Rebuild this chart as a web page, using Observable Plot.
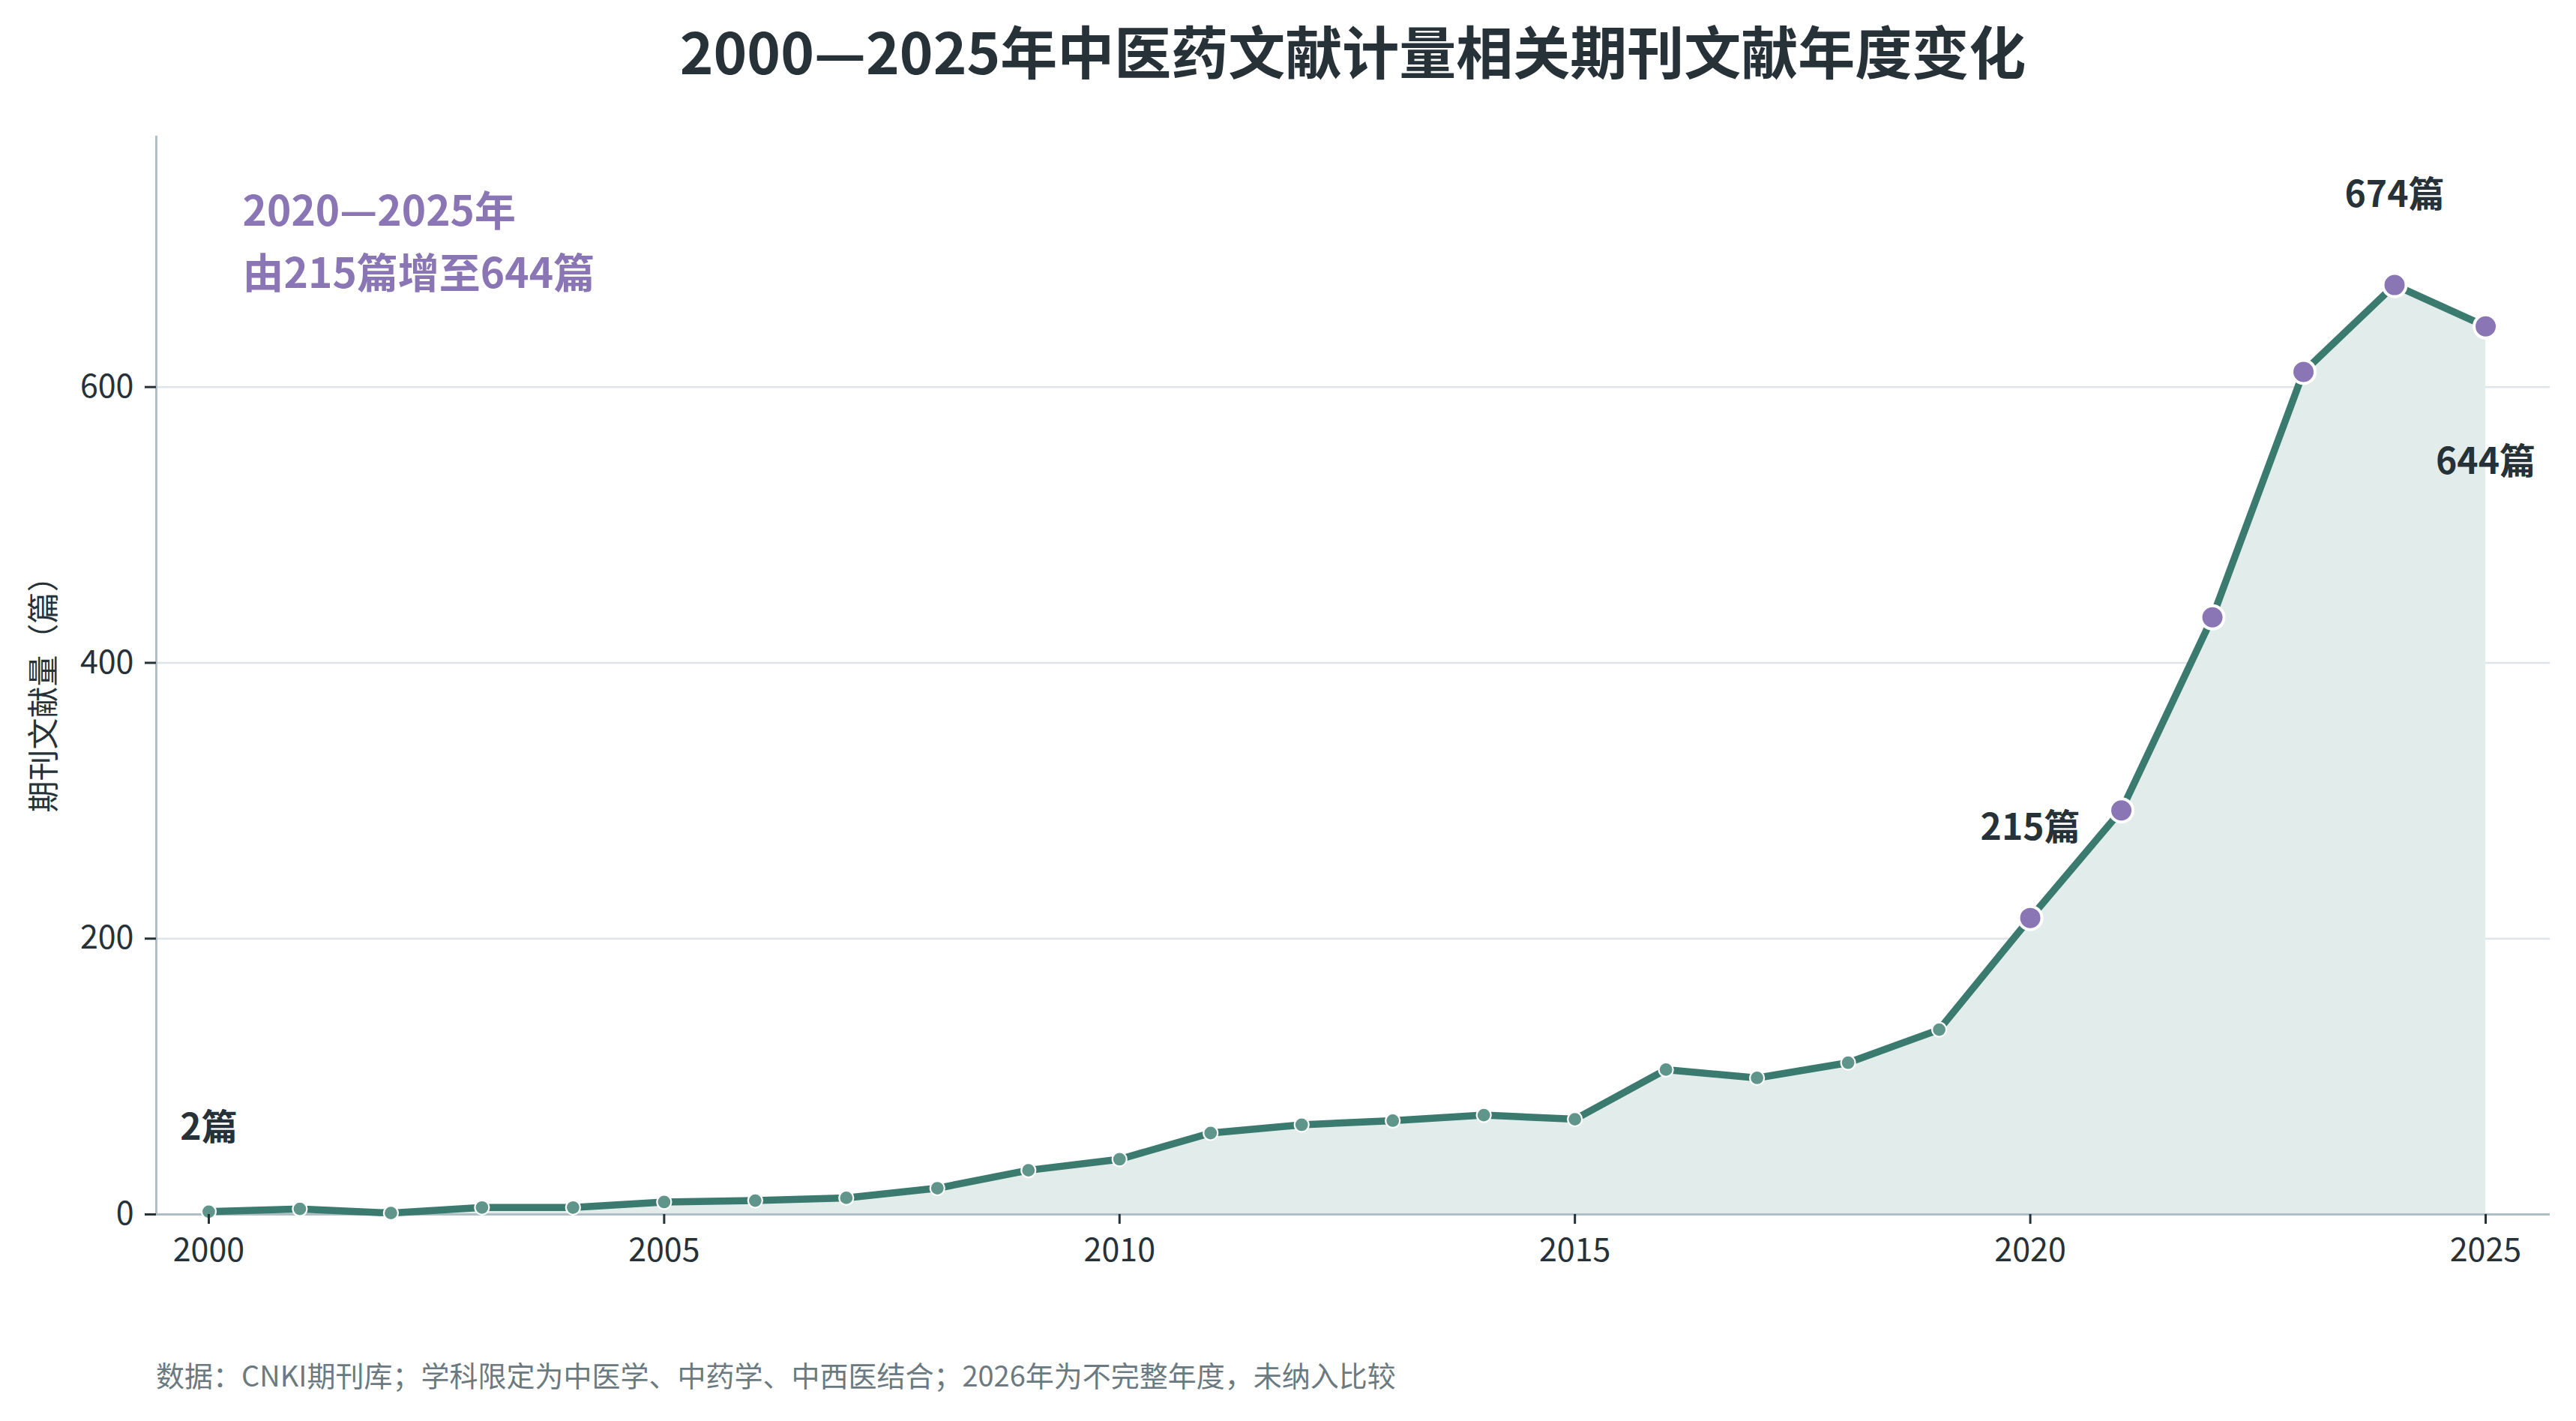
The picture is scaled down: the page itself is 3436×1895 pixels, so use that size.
<!DOCTYPE html>
<html>
<head>
<meta charset="utf-8">
<script src="https://cdn.jsdelivr.net/npm/d3@7"></script>
<script src="https://cdn.jsdelivr.net/npm/@observablehq/plot@0.6"></script>
<style>
  html, body { margin: 0; padding: 0; background: #fff; }
  #wrap { position: relative; width: 3436px; height: 1895px; font-family: "Noto Sans CJK SC", "Noto Sans", sans-serif; }
  #title { position: absolute; left: 208px; width: 3193px; top: 28px; text-align: center; font-size: 76px; line-height: 76px; font-weight: bold; color: #263238; }
  #chart { position: absolute; left: 0; top: 150px; }
  #footer { position: absolute; left: 208px; top: 1814px; font-size: 38px; line-height: 38px; color: #6b7a80; }
</style>
</head>
<body>
<div id="wrap">
  <div id="title">2000—2025年中医药文献计量相关期刊文献年度变化</div>
  <div id="chart"></div>
  <div id="footer">数据：CNKI期刊库；学科限定为中医学、中药学、中西医结合；2026年为不完整年度，未纳入比较</div>
</div>
<script>
const years = [2000, 2001, 2002, 2003, 2004, 2005, 2006, 2007, 2008, 2009, 2010, 2011, 2012,
               2013, 2014, 2015, 2016, 2017, 2018, 2019, 2020, 2021, 2022, 2023, 2024, 2025];
const counts = [2, 4, 1, 5, 5, 9, 10, 12, 19, 32, 40, 59, 65,
                68, 72, 69, 105, 99, 110, 134, 215, 293, 433, 611, 674, 644];
const xTicks = [2000, 2005, 2010, 2015, 2020, 2025];
const yTicks = [0, 200, 400, 600];
const highlightStart = 2020;
const unit = "篇";

const data = years.map((year, i) => ({year, count: counts[i]}));
const early = data.filter(d => d.year < highlightStart);
const late = data.filter(d => d.year >= highlightStart);
const first = data[0];
const last = data[data.length - 1];
const startPt = data.find(d => d.year === highlightStart);
const peak = data.reduce((a, b) => (b.count > a.count ? b : a));

const xDomain = [1999.424, 2025.708];
const yDomain = [0, 782];
const ink = "#263238";
const labelFont = 48;
const label = (d) => `${d.count}${unit}`;

const chart = Plot.plot({
  width: 3436,
  height: 1589,
  marginTop: 31,
  marginBottom: 120,
  marginLeft: 208,
  marginRight: 35,
  style: {fontFamily: "'Noto Sans CJK SC', 'Noto Sans', sans-serif", fontSize: "43px", color: ink, background: "white", overflow: "visible"},
  x: {domain: xDomain, label: null},
  y: {domain: yDomain, label: null},
  marks: [
    Plot.ruleY(yTicks.filter(d => d > 0), {stroke: "#dfe5e8", strokeWidth: 2.5}),
    Plot.areaY(data, {x: "year", y: "count", fill: "#e2edeb"}),
    Plot.ruleY([0], {stroke: "#b0bec5", strokeWidth: 3}),
    Plot.ruleX([xDomain[0]], {stroke: "#b0bec5", strokeWidth: 3}),
    Plot.lineY(data, {x: "year", y: "count", stroke: "#3b7a6f", strokeWidth: 9.5, strokeLinejoin: "round"}),
    Plot.dot(early, {x: "year", y: "count", r: 9.5, fill: "#5f958a", stroke: "white", strokeWidth: 2.2}),
    Plot.dot(late, {x: "year", y: "count", r: 15.5, fill: "#8b76b5", stroke: "white", strokeWidth: 4}),
    Plot.text([first], {x: "year", y: "count", text: label, dy: -111, fontSize: labelFont, fontWeight: "bold", fill: ink}),
    Plot.text([startPt], {x: "year", y: "count", text: label, dy: -120, fontSize: labelFont, fontWeight: "bold", fill: ink}),
    Plot.text([peak], {x: "year", y: "count", text: label, dy: -119, fontSize: labelFont, fontWeight: "bold", fill: ink}),
    Plot.text([last], {x: "year", y: "count", text: label, dy: 181, fontSize: labelFont, fontWeight: "bold", fill: ink}),
    Plot.text([`${highlightStart}—${last.year}年\n由${startPt.count}${unit}增至${last.count}${unit}`], {
      frameAnchor: "top-left", textAnchor: "start", lineAnchor: "top", lineHeight: 1.5,
      dx: 115, dy: 61, fontSize: 55, fontWeight: "bold", fill: "#8b76b5"
    }),
    Plot.text(["期刊文献量（篇）"], {frameAnchor: "left", textAnchor: "middle", lineAnchor: "middle", rotate: -90, dx: -149, dy: 15, fontSize: 42, fill: ink}),
    Plot.axisX({ticks: xTicks, tickFormat: d => `${d}`, tickSize: 13, tickPadding: 19, strokeWidth: 3, fontSize: 43, label: null}),
    Plot.axisY({ticks: yTicks, tickSize: 15, tickPadding: 15, strokeWidth: 3, fontSize: 43, label: null})
  ]
});
document.getElementById("chart").appendChild(chart);
</script>
</body>
</html>
